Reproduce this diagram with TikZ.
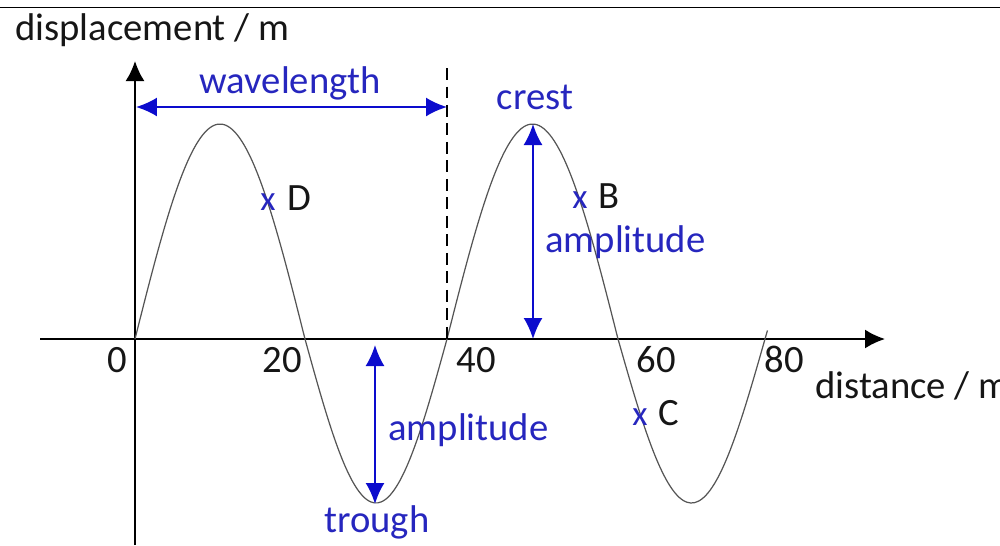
\documentclass[tikz,border=0pt]{standalone}
\usepackage{fontspec}
\setmainfont{Carlito}
\usetikzlibrary{arrows.meta,positioning}
\definecolor{labelblue}{RGB}{38,38,190}
\definecolor{arrowblue}{RGB}{12,12,205}
\definecolor{inkblack}{RGB}{22,22,22}
\definecolor{wavegray}{RGB}{85,85,85}
\tikzset{
  axis/.style={-{Latex[length=4mm,width=3.8mm]}, line width=1.2pt, draw=black},
  span/.style={{Latex[length=4.2mm,width=3.8mm]}-{Latex[length=4.2mm,width=3.8mm]}, line width=1.1pt, draw=arrowblue},
  wave/.style={line width=0.7pt, draw=wavegray},
  marker/.style={dash pattern=on 2.4mm off 1.3mm, line width=1.0pt, draw=black},
  blacklabel/.style={text=inkblack, inner sep=0pt, font=\fontsize{22}{26}\selectfont},
  bluelabel/.style={text=labelblue, inner sep=0pt, font=\fontsize{22}{26}\selectfont},
  ptcross/.style={text=labelblue, inner sep=0pt, anchor=base, font=\fontsize{20}{24}\selectfont}
}

\begin{document}
\begin{tikzpicture}[x=0.02cm, y=-0.02cm]
  \useasboundingbox (0,0) rectangle (1000,545);
  \clip (0,0) rectangle (1000,545);
  \draw[line width=0.9pt] (0,7.5) -- (1000,7.5);

  % axes
  \coordinate (ybottom) at (135,545);
  \coordinate (ytop) at (135,61);
  \coordinate (xleft) at (40,339);
  \coordinate (xright) at (885,339);
  \draw[axis] (ybottom) -- (ytop);
  \draw[axis] (xleft) -- (xright);

  % wave, one half at a time
  \foreach \sx/\hw/\amp/\ed in {135/170/215/180, 305/142/-164/180, 447/171/215/180, 618/147/-164/183}
    \draw[wave] plot[domain=0:\ed, samples=40, smooth] ({\sx+\hw/180*\x}, {339-\amp*sin(\x)});

  % labels
  \node[blacklabel, anchor=base west] (ylabel) at (15,40) {displacement / m};
  \node[blacklabel, anchor=base west] (xlabel) at (815,398) {distance / m};
  \foreach \px/\val in {117/0, 282/20, 476/40, 656/60, 784/80}
    \node[blacklabel, anchor=base] (tick\val) at (\px,372) {\val};

  % wavelength
  \coordinate (wlstart) at (136,107);
  \coordinate (wlend) at (447,107);
  \coordinate (dashtop) at (447,68);
  \coordinate (dashbottom) at (447,339);
  \draw[marker] (dashtop) -- (dashbottom);
  \draw[span] (wlstart) -- (wlend);
  \node[bluelabel, anchor=base] (wavelength) at (290,93) {wavelength};

  % crest and amplitude
  \node[bluelabel, anchor=base] (crest) at (535,109) {crest};
  \coordinate (crestpeak) at (533,124);
  \coordinate (crestfoot) at (533,339);
  \draw[span] (crestpeak) -- (crestfoot);
  \node[bluelabel, anchor=base west] (ampupper) at (545,252) {amplitude};

  % trough and amplitude
  \coordinate (troughtop) at (375,345);
  \coordinate (troughfoot) at (375,504);
  \draw[span] (troughtop) -- (troughfoot);
  \node[bluelabel, anchor=base west] (amplower) at (388,440) {amplitude};
  \node[bluelabel, anchor=base] (trough) at (377,532) {trough};

  % points on the wave
  \node[ptcross] (crossD) at (268,210) {x};
  \node[blacklabel, anchor=base west] (pointD) at (287,210) {D};
  \node[ptcross] (crossB) at (580,208) {x};
  \node[blacklabel, anchor=base west] (pointB) at (598,208) {B};
  \node[ptcross] (crossC) at (640,425) {x};
  \node[blacklabel, anchor=base west] (pointC) at (658,425) {C};
\end{tikzpicture}
\end{document}
